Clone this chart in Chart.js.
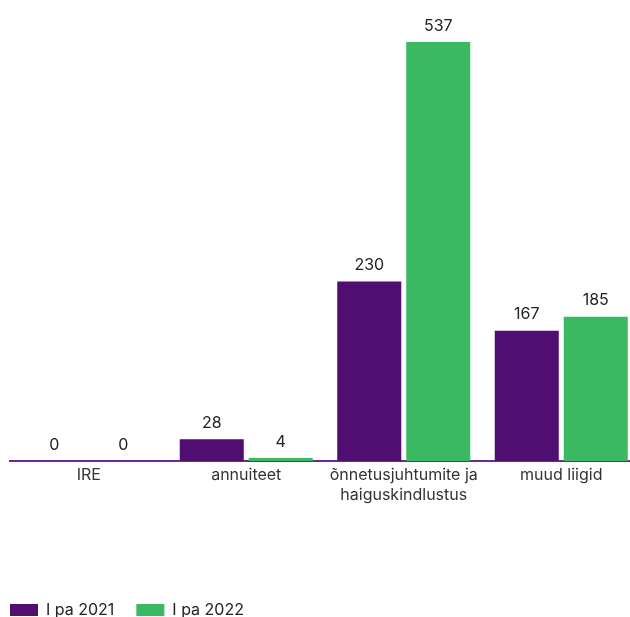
<!DOCTYPE html>
<html>
<head>
<meta charset="utf-8">
<script src="https://cdn.jsdelivr.net/npm/chart.js@4"></script>
<style>
  html, body { margin: 0; padding: 0; background: #fff; overflow: hidden; }
  #wrap { position: relative; width: 662px; height: 628px; margin-left: -12px; }
</style>
</head>
<body>
<div id="wrap"><canvas id="chartCanvas"></canvas></div>
<script>
const categories = ["IRE", "annuiteet", ["õnnetusjuhtumite ja", "haiguskindlustus"], "muud liigid"];
const seriesNames = ["I pa 2021", "I pa 2022"];
const values2021 = [0, 28, 230, 167];
const values2022 = [0, 4, 537, 185];
const colors = ["#500e72", "#3ab862"];

const fontFamily = "Inter, Roboto, sans-serif";

// draws the number above every bar
const valueLabels = {
  id: "valueLabels",
  afterDatasetsDraw(chart) {
    const ctx = chart.ctx;
    ctx.save();
    ctx.font = "16px " + fontFamily;
    ctx.fillStyle = "#222";
    ctx.textAlign = "center";
    ctx.textBaseline = "bottom";
    chart.data.datasets.forEach((ds, i) => {
      chart.getDatasetMeta(i).data.forEach((bar, j) => {
        ctx.fillText(ds.data[j], bar.x, bar.y - 8);
      });
    });
    ctx.restore();
  }
};

new Chart(document.getElementById("chartCanvas"), {
  type: "bar",
  data: {
    labels: categories,
    datasets: [
      { label: seriesNames[0], data: values2021, backgroundColor: colors[0] },
      { label: seriesNames[1], data: values2022, backgroundColor: colors[1] }
    ]
  },
  options: {
    responsive: true,
    maintainAspectRatio: false,
    animation: false,
    categoryPercentage: 0.876,
    barPercentage: 0.928,
    layout: { padding: { top: 24, left: 0, right: 10, bottom: 0 } },
    plugins: {
      legend: {
        position: "bottom",
        align: "start",
        labels: {
          boxWidth: 28,
          boxHeight: 12,
          padding: 22,
          color: "#222",
          font: { family: fontFamily, size: 16 }
        }
      },
      tooltip: { enabled: false }
    },
    scales: {
      x: {
        grid: { display: false, drawTicks: false },
        border: { color: "#6a2a8e", width: 2 },
        ticks: {
          color: "#333",
          padding: 5,
          maxRotation: 0,
          autoSkip: false,
          font: { family: fontFamily, size: 16 }
        },
        afterFit(scale) { scale.height = 119; }
      },
      y: {
        min: 0,
        max: 560,
        grid: { display: false },
        border: { display: false },
        ticks: { display: false },
        afterFit(scale) { scale.width = 22; }
      }
    }
  },
  plugins: [valueLabels]
});
</script>
</body>
</html>
